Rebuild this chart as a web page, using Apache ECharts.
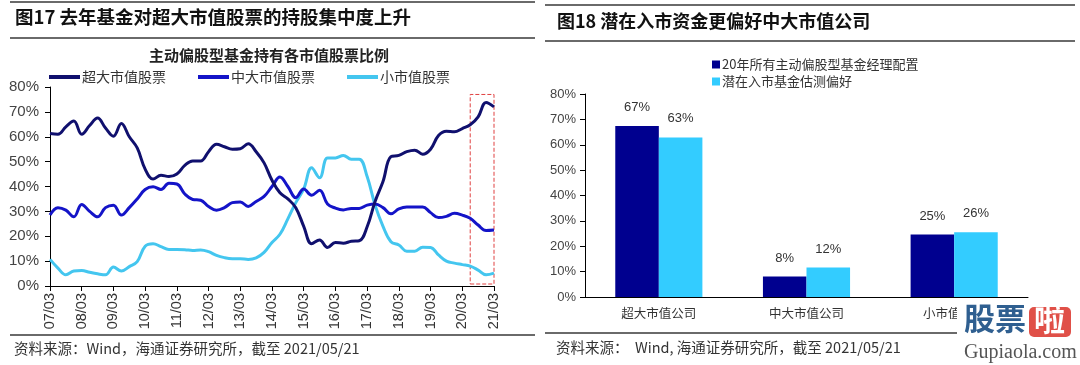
<!DOCTYPE html>
<html><head><meta charset="utf-8">
<script src="https://cdn.jsdelivr.net/npm/echarts@6/dist/echarts.min.js"></script>
<style>html,body{margin:0;padding:0;background:#fff}#c{width:1080px;height:365px}</style>
</head><body><div id="c"></div>
<script>
// ---------- Left chart data (quarterly, %) ----------
const years = ['07','08','09','10','11','12','13','14','15','16','17','18','19','20','21'];
const months = ['03','06','09','12'];
const quarters = [];
years.forEach((y, yi) => months.forEach(m => { if (yi < years.length - 1 || m === '03') quarters.push(y + '/' + m); }));

const seriesNames = ['超大市值股票', '中大市值股票', '小市值股票'];
const superLarge = [61.3,61,64,66.3,61,64.5,67.5,63.5,60.2,65.3,60,55.5,47,43,44.5,44,45,48.5,50.3,50.3,54,57,56,55,55.2,57.2,54,49.5,42.5,37.5,35,31.5,24,17,18.5,15.5,17.5,17.2,18,18.2,23.8,34,42,52,52.5,54,54.6,53,55,60.5,62.2,62,63.3,64.8,68,73.8,72];
const midLarge = [28.5,31.5,30.5,27.8,32.8,30,27.8,31.5,32.5,28.5,31.5,35,38.8,39.9,38.8,41.3,41,37,34.8,34.5,32,30.5,31.5,33.5,33.8,32,34,36,40,43.8,40,35.5,39,36.5,38.5,33,31.3,30.6,31.2,31.2,32.5,33,31.5,29,31,31.8,31.8,31.8,29.5,27.5,28,29.2,28.5,27.2,24.5,22.3,22.5];
const small = [10.7,7.2,4.5,6,6.2,5.5,4.9,4.5,7.6,6,7.8,9.8,16,17,15.8,14.7,14.7,14.6,14.3,14.5,13.8,12.3,11.4,11,11,10.7,11.3,13.5,17.5,20.8,27,33.5,39,47.5,43.5,51.5,51.5,52.5,51,51,44,32.5,24,17.8,16.5,14,14,15.6,15.5,12.5,10,9.2,8.6,8,6.4,4.5,5.2];
const highlightFrom = '20/06', highlightTo = '21/03';
const highlightLow = 0.8, highlightHigh = 77;

// ---------- Right chart data (%) ----------
const barCategories = ['超大市值公司', '中大市值公司', '小市值公司'];
const barNames = ['20年所有主动偏股型基金经理配置', '潜在入市基金估测偏好'];
const barAllFunds = [67.4, 8.1, 24.6];
const barNewFunds = [62.9, 11.6, 25.5];

const yTicksMax = 80, yInterval = 10;

const CJK = '"Noto Sans CJK SC", "Noto Sans", sans-serif';
const LAT = 'Arial, "Liberation Sans", sans-serif';
const C1 = '#10106e', C2 = '#1414c8', C3 = '#44c6ef';
const B1 = '#00008f', B2 = '#33ccff';

const chart = echarts.init(document.getElementById('c'), null, {renderer: 'canvas'});

const ruleStyle = {stroke: '#6a6a6a', lineWidth: 2};
const option = {
  animation: false,
  backgroundColor: '#fff',
  title: [
    {text: '主动偏股型基金持有各市值股票比例', left: 264, top: 43, textAlign: 'center',
     textStyle: {fontFamily: CJK, fontSize: 15, fontWeight: 'bold', color: '#222'}}
  ],
  legend: [
    {data: seriesNames, left: 44, top: 65, icon: 'rect', itemWidth: 31, itemHeight: 4, itemGap: 32,
     textStyle: {fontFamily: CJK, fontSize: 14, color: '#333', padding: [0,0,0,-3]}},
    {data: barNames, left: 707, top: 53, orient: 'vertical', icon: 'rect', itemWidth: 8, itemHeight: 8, itemGap: 4,
     textStyle: {fontFamily: CJK, fontSize: 13, color: '#333', padding: [0,0,0,-3]}}
  ],
  grid: [
    {left: 50, right: 586, top: 87, bottom: 79},
    {left: 585, right: 52, top: 94, bottom: 68}
  ],
  xAxis: [
    {type: 'category', gridIndex: 0, data: quarters, boundaryGap: false,
     axisLine: {lineStyle: {color: '#000', width: 1}},
     axisTick: {interval: 3, length: 5, lineStyle: {color: '#000'}},
     axisLabel: {interval: 3, rotate: 90, margin: 7, fontFamily: LAT, fontSize: 14.5, color: '#333'},
     splitLine: {show: false}},
    {type: 'category', gridIndex: 1, data: barCategories,
     axisLine: {lineStyle: {color: '#000', width: 1}},
     axisTick: {length: 5, lineStyle: {color: '#000'}},
     axisLabel: {margin: 10, fontFamily: CJK, fontSize: 12.5, color: '#333'}}
  ],
  yAxis: [
    {type: 'value', gridIndex: 0, min: 0, max: yTicksMax, interval: yInterval,
     axisLine: {show: true, lineStyle: {color: '#000'}},
     axisTick: {show: true, length: 5, lineStyle: {color: '#000'}},
     axisLabel: {formatter: '{value}%', fontFamily: LAT, fontSize: 15, color: '#444', margin: 11},
     splitLine: {show: false}},
    {type: 'value', gridIndex: 1, min: 0, max: yTicksMax, interval: yInterval,
     axisLine: {show: true, lineStyle: {color: '#000'}},
     axisTick: {show: true, length: 5, lineStyle: {color: '#000'}},
     axisLabel: {formatter: '{value}%', fontFamily: LAT, fontSize: 13, color: '#444', margin: 9},
     splitLine: {show: false}}
  ],
  series: [
    {name: seriesNames[0], type: 'line', xAxisIndex: 0, yAxisIndex: 0, data: superLarge, smooth: 0.4,
     showSymbol: false, lineStyle: {color: C1, width: 3}, itemStyle: {color: C1}, z: 4,
     markArea: {silent: true, itemStyle: {color: 'rgba(0,0,0,0)', borderColor: '#e04040', borderWidth: 1, borderType: [4, 2]},
       data: [[{xAxis: highlightFrom, yAxis: highlightLow}, {xAxis: highlightTo, yAxis: highlightHigh}]]}},
    {name: seriesNames[1], type: 'line', xAxisIndex: 0, yAxisIndex: 0, data: midLarge, smooth: 0.4,
     showSymbol: false, lineStyle: {color: C2, width: 3}, itemStyle: {color: C2}, z: 3},
    {name: seriesNames[2], type: 'line', xAxisIndex: 0, yAxisIndex: 0, data: small, smooth: 0.4,
     showSymbol: false, lineStyle: {color: C3, width: 3}, itemStyle: {color: C3}, z: 2},
    {name: barNames[0], type: 'bar', xAxisIndex: 1, yAxisIndex: 1, data: barAllFunds, barGap: '0%', barCategoryGap: '41%',
     itemStyle: {color: B1},
     label: {show: true, position: 'top', distance: 12, formatter: p => Math.round(p.value) + '%', fontFamily: LAT, fontSize: 13, color: '#333'}},
    {name: barNames[1], type: 'bar', xAxisIndex: 1, yAxisIndex: 1, data: barNewFunds, barGap: '0%', barCategoryGap: '41%',
     itemStyle: {color: B2},
     label: {show: true, position: 'top', distance: 12, formatter: p => Math.round(p.value) + '%', fontFamily: LAT, fontSize: 13, color: '#333'}}
  ],
  graphic: [
    // left panel rules
    {type: 'line', shape: {x1: 10, y1: 2, x2: 535, y2: 2}, style: ruleStyle, silent: true},
    {type: 'line', shape: {x1: 10, y1: 38, x2: 535, y2: 38}, style: ruleStyle, silent: true},
    {type: 'line', shape: {x1: 10, y1: 335, x2: 535, y2: 335}, style: ruleStyle, silent: true},
    // right panel rules
    {type: 'line', shape: {x1: 545, y1: 5, x2: 1075, y2: 5}, style: ruleStyle, silent: true},
    {type: 'line', shape: {x1: 545, y1: 41, x2: 1075, y2: 41}, style: ruleStyle, silent: true},
    {type: 'line', shape: {x1: 545, y1: 333, x2: 1075, y2: 333}, style: ruleStyle, silent: true},
    // panel titles
    {type: 'text', left: 15, top: 8, style: {text: '图17 去年基金对超大市值股票的持股集中度上升', font: 'bold 18.5px ' + CJK, fill: '#111'}},
    {type: 'text', left: 557, top: 12, style: {text: '图18 潜在入市资金更偏好中大市值公司', font: 'bold 18px ' + CJK, fill: '#111'}},
    // sources
    {type: 'text', left: 14, top: 341, style: {text: '资料来源：Wind，海通证券研究所，截至 2021/05/21', font: '14.5px ' + CJK, fill: '#333'}},
    {type: 'text', left: 556, top: 340, style: {text: '资料来源：  Wind, 海通证券研究所，截至 2021/05/21', font: '14.5px ' + CJK, fill: '#333'}},
    // watermark
    {type: 'rect', shape: {x: 957, y: 304, width: 123, height: 61}, style: {fill: '#fff'}, z: 100},
    {type: 'text', left: 964, top: 303, z: 101, style: {text: '股票', font: 'bold 31px ' + CJK, fill: '#2f5f90'}},
    {type: 'rect', shape: {x: 1029, y: 307, width: 42, height: 30, r: 5}, style: {fill: '#e05048'}, z: 101},
    {type: 'text', left: 1034, top: 304, z: 102, style: {text: '啦', font: 'bold 31px ' + CJK, fill: '#fff'}},
    {type: 'text', left: 964, top: 343, z: 101, style: {text: 'Gupiaola.com', font: '20px "Liberation Serif", "DejaVu Serif", serif', fill: '#555'}}
  ]
};
chart.setOption(option);
</script>
</body></html>
